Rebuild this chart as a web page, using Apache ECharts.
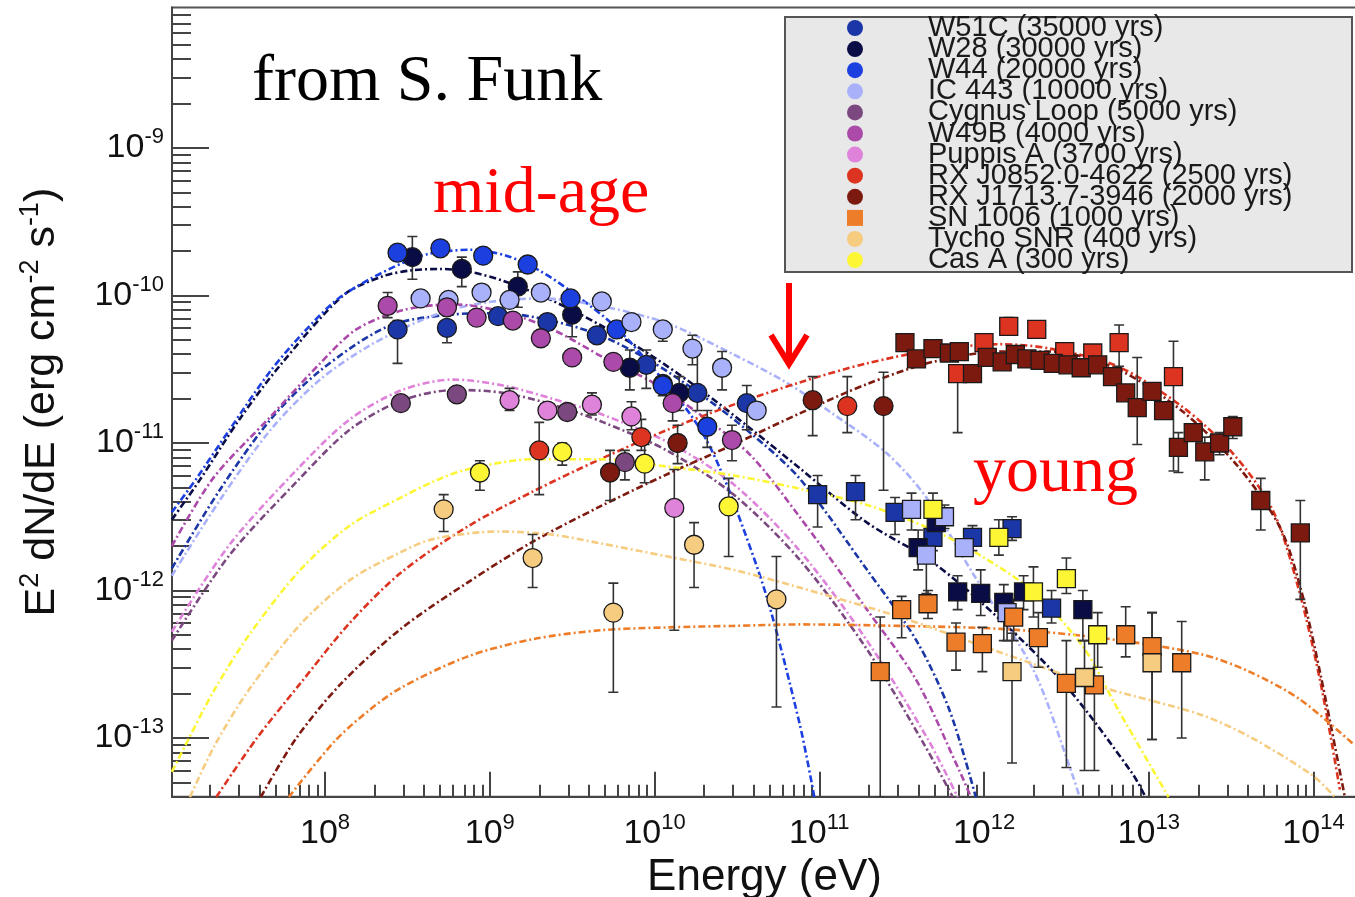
<!DOCTYPE html>
<html><head><meta charset="utf-8">
<script src="https://cdn.jsdelivr.net/npm/echarts@6/dist/echarts.min.js"></script>
<style>html,body{margin:0;padding:0;background:#fff}#c{width:1355px;height:897px}</style>
</head><body><div id="c"></div>
<script>
// All values are log10: [log10 E (eV), log10 E^2 dN/dE (erg cm^-2 s^-1)]
// error arrays: [log10 E, log10 low, log10 high]
const X_RANGE = [7.071, 14.264];
const Y_RANGE = [-13.398, -8.0475];
const X_MAJOR = [8, 9, 10, 11, 12, 13, 14];
const Y_MAJOR = [-13, -12, -11, -10, -9];

const W51C_gev = [[8.44,-10.23],[8.74,-10.22],[9.05,-10.14],[9.35,-10.18],[9.65,-10.27],[9.95,-10.47],[10.05,-10.60],[10.26,-10.66],[10.56,-10.73]];
const W51C_tev = [[10.99,-11.35],[11.22,-11.33],[11.46,-11.47],[11.69,-11.64],[11.93,-11.64],[12.17,-11.58],[12.41,-12.12]];
const W51C_err = [[8.44,-10.46,-10.17],[8.74,-10.32,-10.17],[9.95,-10.63,-10.37],[10.26,-10.78,-10.37],[10.56,-10.91,-10.61],[10.99,-11.57,-11.22],[11.22,-11.52,-11.22],[11.46,-11.62,-11.37],[11.69,-11.73,-11.55],[11.93,-11.73,-11.56],[12.17,-11.66,-11.50],[12.41,-12.22,-12.00]];
const W51C_model = [[7.07,-11.85],[7.36,-11.32],[7.67,-10.84],[7.97,-10.51],[8.38,-10.21],[8.76,-10.13],[9.06,-10.12],[9.37,-10.17],[9.67,-10.27],[9.97,-10.44],[10.28,-10.67],[10.58,-10.93],[10.88,-11.24],[11.29,-11.86],[11.59,-12.34],[11.79,-12.81],[11.95,-13.40]];

const W28_gev = [[8.53,-9.74],[8.83,-9.82],[9.17,-9.94],[9.50,-10.13],[9.85,-10.49],[10.15,-10.66]];
const W28_tev = [[11.60,-11.71],[11.71,-11.54],[11.84,-12.01],[11.98,-12.02],[12.12,-12.08],[12.24,-12.01],[12.60,-12.13]];
const W28_err = [[8.53,-9.89,-9.60],[8.83,-9.94,-9.74],[9.17,-10.08,-9.84],[9.50,-10.28,-10.02],[9.85,-10.64,-10.37],[10.15,-10.78,-10.55],[11.60,-11.86,-11.59],[11.84,-12.13,-11.90],[11.98,-12.17,-11.86],[12.12,-12.34,-11.96],[12.24,-12.13,-11.90],[12.60,-12.34,-12.00]];
const W28_model = [[7.07,-11.52],[7.24,-11.25],[7.48,-10.84],[7.73,-10.47],[8.11,-10.00],[8.35,-9.87],[8.52,-9.83],[8.70,-9.82],[8.88,-9.84],[9.08,-9.90],[9.37,-10.03],[9.67,-10.20],[9.97,-10.40],[10.28,-10.64],[10.58,-10.90],[10.88,-11.17],[11.29,-11.54],[11.69,-11.81],[12.10,-12.20],[12.50,-12.65],[12.90,-13.24],[12.98,-13.40]];

const W44_gev = [[8.44,-9.71],[8.70,-9.68],[8.96,-9.73],[9.23,-9.79],[9.49,-10.02],[9.77,-10.23],[10.05,-10.61],[10.32,-10.89]];
const W44_err = [[9.49,-10.07,-9.97],[10.05,-10.68,-10.55],[10.32,-11.03,-10.78]];
const W44_model = [[7.07,-11.47],[7.22,-11.24],[7.42,-10.91],[7.67,-10.51],[7.87,-10.25],[8.07,-10.03],[8.27,-9.89],[8.47,-9.78],[8.62,-9.72],[8.88,-9.69],[9.10,-9.73],[9.30,-9.83],[9.49,-9.97],[9.77,-10.22],[10.05,-10.57],[10.22,-10.81],[10.32,-10.99],[10.40,-11.18],[10.48,-11.40],[10.68,-12.04],[10.88,-12.90],[10.97,-13.40]];

const IC443_gev = [[8.58,-10.02],[8.75,-10.03],[8.95,-9.98],[9.12,-10.03],[9.31,-9.98],[9.68,-10.04],[9.86,-10.18],[10.05,-10.23],[10.23,-10.36],[10.41,-10.49],[10.62,-10.78]];
const IC443_tev = [[11.56,-11.45],[11.65,-11.76],[11.76,-11.50],[11.88,-11.71],[12.14,-12.15]];
const IC443_err = [[10.05,-10.31,-10.18],[10.23,-10.47,-10.27],[10.41,-10.64,-10.38],[11.56,-11.59,-11.34],[11.65,-12.02,-11.66],[11.76,-11.58,-11.42],[12.14,-12.34,-12.02]];
const IC443_model = [[7.07,-11.90],[7.36,-11.39],[7.67,-10.91],[7.97,-10.57],[8.27,-10.34],[8.58,-10.17],[8.82,-10.08],[9.10,-10.03],[9.31,-10.02],[9.67,-10.07],[10.08,-10.19],[10.48,-10.40],[10.80,-10.59],[11.08,-10.80],[11.41,-11.07],[11.65,-11.37],[11.93,-11.88],[12.30,-12.54],[12.54,-13.26],[12.58,-13.40]];

const CYG_gev = [[8.46,-10.73],[8.80,-10.67],[9.47,-10.79],[9.82,-11.13]];
const CYG_err = [[9.82,-11.25,-11.05]];
const CYG_model = [[7.07,-12.34],[7.42,-11.76],[7.83,-11.26],[8.15,-10.91],[8.47,-10.71],[8.80,-10.64],[9.08,-10.66],[9.38,-10.74],[9.69,-10.86],[10.09,-11.06],[10.48,-11.35],[10.88,-11.79],[11.29,-12.40],[11.64,-13.05],[11.81,-13.40]];

const W49B_gev = [[8.38,-10.07],[8.74,-10.08],[8.92,-10.15],[9.14,-10.17],[9.31,-10.29],[9.50,-10.42],[9.75,-10.45],[10.11,-10.73],[10.47,-10.98]];
const W49B_err = [[8.38,-10.15,-9.98],[10.11,-10.85,-10.62],[10.47,-11.12,-10.88]];
const W49B_model = [[7.07,-11.70],[7.32,-11.24],[7.67,-10.82],[7.97,-10.46],[8.19,-10.23],[8.47,-10.10],[8.78,-10.06],[9.08,-10.11],[9.38,-10.23],[9.69,-10.42],[9.99,-10.59],[10.28,-10.81],[10.58,-11.08],[10.88,-11.50],[11.29,-12.13],[11.59,-12.61],[11.85,-13.22],[11.92,-13.40]];

const PUP_gev = [[9.12,-10.71],[9.35,-10.78],[9.62,-10.74],[9.86,-10.82],[10.12,-11.44]];
const PUP_err = [[9.12,-10.78,-10.63],[9.62,-10.81,-10.66],[9.86,-10.91,-10.72],[10.12,-12.27,-11.18]];
const PUP_model = [[7.07,-12.28],[7.42,-11.69],[7.83,-11.18],[8.15,-10.84],[8.47,-10.64],[8.78,-10.57],[9.08,-10.61],[9.38,-10.70],[9.69,-10.81],[10.09,-11.00],[10.48,-11.28],[10.88,-11.73],[11.29,-12.34],[11.66,-13.01],[11.84,-13.40]];

const RXJ0852_gev = [[9.30,-11.05],[9.92,-10.96],[11.17,-10.75]];
const RXJ0852_tev = [[11.84,-10.53],[12.00,-10.32],[12.15,-10.21],[12.32,-10.23],[12.49,-10.38],[12.66,-10.39],[12.82,-10.32],[13.15,-10.55]];
const RXJ0852_err = [[9.30,-11.35,-10.86],[9.92,-11.05,-10.84],[11.17,-10.93,-10.55],[11.84,-10.93,-10.48],[12.00,-10.38,-10.26],[12.15,-10.25,-10.15],[12.32,-10.28,-10.18],[12.82,-10.48,-10.20],[13.15,-11.19,-10.31]];
const RXJ0852_model = [[7.34,-13.40],[7.58,-13.01],[7.85,-12.63],[8.15,-12.22],[8.46,-11.88],[8.86,-11.57],[9.26,-11.33],[9.67,-11.11],[10.08,-10.91],[10.48,-10.74],[10.88,-10.59],[11.29,-10.46],[11.69,-10.37],[12.10,-10.33],[12.40,-10.36],[12.81,-10.48],[13.21,-10.76],[13.51,-11.07],[13.75,-11.45],[13.90,-11.95],[14.04,-12.61],[14.16,-13.35]];

const RXJ1713_gev = [[9.73,-11.20],[10.14,-11.00],[10.96,-10.71],[11.39,-10.75]];
const RXJ1713_tev = [[11.52,-10.32],[11.59,-10.43],[11.69,-10.36],[11.79,-10.39],[11.85,-10.38],[11.93,-10.53],[12.02,-10.42],[12.11,-10.45],[12.19,-10.40],[12.26,-10.43],[12.34,-10.44],[12.42,-10.46],[12.51,-10.47],[12.59,-10.49],[12.69,-10.47],[12.78,-10.55],[12.86,-10.66],[12.93,-10.76],[13.02,-10.65],[13.09,-10.78],[13.18,-11.03],[13.27,-10.93],[13.34,-11.06],[13.43,-11.00],[13.51,-10.89],[13.68,-11.39],[13.92,-11.61]];
const RXJ1713_err = [[9.73,-11.39,-11.05],[10.14,-11.14,-10.88],[10.96,-10.95,-10.55],[11.39,-11.32,-10.52],[11.52,-10.36,-10.28],[12.93,-11.01,-10.42],[13.18,-11.20,-10.93],[13.34,-11.25,-10.96],[13.43,-11.08,-10.93],[13.51,-10.97,-10.82],[13.68,-11.59,-11.24],[13.92,-12.06,-11.39]];
const RXJ1713_model = [[7.61,-13.40],[7.82,-13.01],[8.09,-12.64],[8.46,-12.26],[8.86,-11.95],[9.26,-11.67],[9.67,-11.43],[10.08,-11.21],[10.48,-11.01],[10.88,-10.80],[11.29,-10.60],[11.69,-10.45],[12.10,-10.38],[12.40,-10.38],[12.81,-10.50],[13.21,-10.79],[13.55,-11.17],[13.80,-11.58],[13.93,-12.02],[14.05,-12.61],[14.19,-13.40]];

const SN1006_tev = [[11.37,-12.55],[11.50,-12.13],[11.66,-12.09],[11.83,-12.35],[11.99,-12.36],[12.18,-12.18],[12.33,-12.32],[12.50,-12.63],[12.67,-12.64],[12.86,-12.30],[13.02,-12.38],[13.20,-12.49]];
const SN1006_err = [[11.37,-13.40,-12.18],[11.50,-12.32,-12.04],[11.66,-12.19,-12.00],[11.83,-12.54,-12.22],[11.99,-12.55,-12.25],[12.18,-12.34,-12.06],[12.33,-12.52,-12.15],[12.50,-13.20,-12.34],[12.67,-13.22,-12.27],[12.86,-12.45,-12.11],[13.02,-13.01,-12.15],[13.20,-13.00,-12.21]];
const SN1006_model = [[7.78,-13.40],[8.06,-13.02],[8.27,-12.81],[8.46,-12.66],[8.86,-12.45],[9.26,-12.33],[9.67,-12.27],[10.08,-12.25],[10.48,-12.24],[10.88,-12.23],[11.49,-12.24],[12.10,-12.26],[12.70,-12.32],[13.31,-12.43],[13.61,-12.55],[13.92,-12.74],[14.25,-13.05]];

const TYCHO_gev = [[8.72,-11.45],[9.26,-11.78],[9.75,-12.15],[10.24,-11.69],[10.74,-12.06]];
const TYCHO_tev = [[12.17,-12.55],[12.61,-12.59],[13.02,-12.49]];
const TYCHO_err = [[8.72,-11.60,-11.35],[9.26,-11.98,-11.62],[9.75,-12.69,-11.95],[10.24,-11.98,-11.54],[10.74,-12.79,-11.77],[12.17,-13.17,-12.29],[12.61,-13.22,-12.34],[13.02,-13.01,-12.15]];
const TYCHO_model = [[7.18,-13.40],[7.33,-13.05],[7.54,-12.67],[7.85,-12.23],[8.15,-11.93],[8.46,-11.74],[8.66,-11.65],[9.06,-11.60],[9.37,-11.62],[9.67,-11.68],[10.08,-11.77],[10.48,-11.86],[10.88,-11.98],[11.49,-12.18],[12.10,-12.42],[12.70,-12.65],[13.31,-12.84],[13.61,-12.99],[13.99,-13.25],[14.13,-13.40]];

const CASA_gev = [[8.94,-11.20],[9.44,-11.06],[9.94,-11.14],[10.45,-11.43]];
const CASA_tev = [[11.69,-11.45],[12.09,-11.64],[12.30,-12.01],[12.50,-11.92],[12.69,-12.30]];
const CASA_err = [[8.94,-11.32,-11.12],[9.44,-11.15,-11.00],[9.94,-11.27,-11.01],[10.45,-11.77,-11.24],[11.69,-11.59,-11.34],[12.09,-11.76,-11.52],[12.30,-12.18,-11.84],[12.50,-12.02,-11.78],[12.69,-12.52,-12.15]];
const CASA_model = [[7.07,-13.23],[7.17,-13.01],[7.33,-12.67],[7.54,-12.30],[7.85,-11.86],[8.15,-11.56],[8.46,-11.37],[8.66,-11.26],[8.86,-11.18],[9.26,-11.11],[9.67,-11.11],[10.08,-11.16],[10.48,-11.22],[10.88,-11.31],[11.29,-11.42],[11.69,-11.59],[11.99,-11.77],[12.30,-12.01],[12.60,-12.38],[12.81,-12.80],[13.12,-13.40]];

const SOURCES = [
  {name:'W51C (35000 yrs)', color:'#1b36a6', gev:W51C_gev, tev:W51C_tev, err:W51C_err, model:W51C_model, icon:'circle'},
  {name:'W28 (30000 yrs)', color:'#0a0c46', gev:W28_gev, tev:W28_tev, err:W28_err, model:W28_model, icon:'circle'},
  {name:'W44 (20000 yrs)', color:'#1c3fe0', gev:W44_gev, tev:[], err:W44_err, model:W44_model, icon:'circle'},
  {name:'IC 443 (10000 yrs)', color:'#a9b1fb', gev:IC443_gev, tev:IC443_tev, err:IC443_err, model:IC443_model, icon:'circle'},
  {name:'Cygnus Loop (5000 yrs)', color:'#7b497f', gev:CYG_gev, tev:[], err:CYG_err, model:CYG_model, icon:'circle'},
  {name:'W49B (4000 yrs)', color:'#ac4aaa', gev:W49B_gev, tev:[], err:W49B_err, model:W49B_model, icon:'circle'},
  {name:'Puppis A (3700 yrs)', color:'#de82da', gev:PUP_gev, tev:[], err:PUP_err, model:PUP_model, icon:'circle'},
  {name:'RX J0852.0-4622 (2500 yrs)', color:'#dc3420', gev:RXJ0852_gev, tev:RXJ0852_tev, err:RXJ0852_err, model:RXJ0852_model, icon:'circle'},
  {name:'RX J1713.7-3946 (2000 yrs)', color:'#7d1a10', gev:RXJ1713_gev, tev:RXJ1713_tev, err:RXJ1713_err, model:RXJ1713_model, icon:'circle'},
  {name:'SN 1006 (1000 yrs)', color:'#ee7d2a', gev:[], tev:SN1006_tev, err:SN1006_err, model:SN1006_model, icon:'rect'},
  {name:'Tycho SNR (400 yrs)', color:'#f6cc80', gev:TYCHO_gev, tev:TYCHO_tev, err:TYCHO_err, model:TYCHO_model, icon:'circle'},
  {name:'Cas A (300 yrs)', color:'#fcf634', gev:CASA_gev, tev:CASA_tev, err:CASA_err, model:CASA_model, icon:'circle'}
];

const SANS = '"Liberation Sans", Arial, Helvetica, sans-serif';
const SERIF = '"Liberation Serif", "Times New Roman", serif';

function minorTicks(range) {
  const out = [];
  for (let d = Math.floor(range[0]); d <= Math.ceil(range[1]); d++) {
    for (let m = 2; m <= 9; m++) {
      const v = d + Math.log10(m);
      if (v > range[0] && v < range[1]) out.push(v);
    }
  }
  return out;
}
const X_MINOR = minorTicks(X_RANGE);
const Y_MINOR = minorTicks(Y_RANGE);

const TICK_RICH = {
  b: {fontSize: 34, fontFamily: SANS, color: '#111', lineHeight: 44},
  s: {fontSize: 22, fontFamily: SANS, color: '#111', lineHeight: 18, verticalAlign: 'top'}
};
const NAME_RICH = {
  b: {fontSize: 43, fontFamily: SANS, color: '#111', lineHeight: 50},
  s: {fontSize: 27, fontFamily: SANS, color: '#111', lineHeight: 22, verticalAlign: 'top'}
};
const tickFmt = v => '{b|10}{s|' + Math.round(v) + '}';
const AX_COLOR = '#444';

function errRender(params, api) {
  const x = api.value(0), lo = api.value(1), hi = api.value(2);
  const p1 = api.coord([x, hi]), p2 = api.coord([x, lo]);
  const c = 5;
  const st = {stroke: '#333', lineWidth: 1.6};
  return {type: 'group', children: [
    {type: 'line', shape: {x1: p1[0], y1: p1[1], x2: p2[0], y2: p2[1]}, style: st},
    {type: 'line', shape: {x1: p1[0] - c, y1: p1[1], x2: p1[0] + c, y2: p1[1]}, style: st},
    {type: 'line', shape: {x1: p2[0] - c, y1: p2[1], x2: p2[0] + c, y2: p2[1]}, style: st}
  ]};
}

const series = [];
SOURCES.forEach(s => {
  if (s.gev.length) series.push({
    name: s.name, type: 'scatter', data: s.gev, symbol: 'circle', symbolSize: 19, z: 5,
    itemStyle: {color: s.color, borderColor: '#1a1a1a', borderWidth: 1.3, opacity: 1}
  });
  if (s.tev.length) series.push({
    name: s.name, type: 'scatter', data: s.tev, symbol: 'rect', symbolSize: 18, z: 5,
    itemStyle: {color: s.color, borderColor: '#1a1a1a', borderWidth: 1.3, opacity: 1}
  });
  series.push({
    name: s.name, type: 'line', data: s.model, showSymbol: false, smooth: 0.3, z: 2, silent: true,
    lineStyle: {color: s.color, width: 2.6, type: [7, 3, 2, 3]}
  });
  series.push({
    name: s.name, type: 'custom', data: s.err, renderItem: errRender, z: 3, silent: true, clip: true,
    encode: {x: 0, y: [1, 2]}
  });
});

const chart = echarts.init(document.getElementById('c'), null, {renderer: 'canvas'});
chart.setOption({
  animation: false,
  backgroundColor: '#fff',
  grid: {left: 172, top: 7.5, width: 1185, height: 789.2, show: true, borderColor: '#555', borderWidth: 2,
         backgroundColor: '#fff', containLabel: false, outerBoundsMode: 'none'},
  xAxis: [{
    type: 'value', min: X_RANGE[0], max: X_RANGE[1], position: 'bottom',
    axisLine: {show: true, onZero: false, lineStyle: {color: AX_COLOR, width: 2}},
    axisTick: {show: true, inside: true, length: 25, customValues: X_MAJOR, lineStyle: {color: AX_COLOR, width: 2}},
    axisLabel: {show: true, customValues: X_MAJOR, formatter: tickFmt, rich: TICK_RICH, margin: 15},
    splitLine: {show: false},
    name: 'Energy (eV)', nameLocation: 'middle', nameGap: 57,
    nameTextStyle: {fontSize: 44, fontFamily: SANS, color: '#111'}
  }, {
    type: 'value', min: X_RANGE[0], max: X_RANGE[1], position: 'bottom',
    axisLine: {show: false},
    axisTick: {show: true, inside: true, length: 12, customValues: X_MINOR, lineStyle: {color: AX_COLOR, width: 2}},
    axisLabel: {show: false}, splitLine: {show: false}
  }],
  yAxis: [{
    type: 'value', min: Y_RANGE[0], max: Y_RANGE[1], position: 'left',
    axisLine: {show: true, onZero: false, lineStyle: {color: AX_COLOR, width: 2}},
    axisTick: {show: true, inside: true, length: 37, customValues: Y_MAJOR, lineStyle: {color: AX_COLOR, width: 2}},
    axisLabel: {show: true, customValues: Y_MAJOR, formatter: tickFmt, rich: TICK_RICH, margin: 8},
    splitLine: {show: false},
    name: '{b|E}{s|2}{b| dN/dE (erg cm}{s|-2}{b| s}{s|-1}{b|)}', nameLocation: 'middle', nameGap: 105, nameRotate: 90,
    nameTextStyle: {rich: NAME_RICH}
  }, {
    type: 'value', min: Y_RANGE[0], max: Y_RANGE[1], position: 'left',
    axisLine: {show: false},
    axisTick: {show: true, inside: true, length: 19, customValues: Y_MINOR, lineStyle: {color: AX_COLOR, width: 2}},
    axisLabel: {show: false}, splitLine: {show: false}
  }],
  legend: {
    orient: 'vertical', left: 847, top: 13.5, padding: 0, itemGap: -7.9, itemWidth: 16, itemHeight: 16, z: 10,
    selectedMode: false,
    data: SOURCES.map(s => ({name: s.name, icon: s.icon, itemStyle: {borderWidth: 0}})),
    textStyle: {fontSize: 29, fontFamily: SANS, color: '#1a1a1a', lineHeight: 21.1, padding: [0, 0, 0, 60]}
  },
  graphic: [
    {type: 'rect', z: 8, shape: {x: 785, y: 17, width: 567, height: 255},
     style: {fill: '#e8e8e8', stroke: '#555', lineWidth: 2}},
    {type: 'text', z: 20, x: 252, y: 82.7,
     style: {text: 'from S. Funk', fontSize: 66, fontFamily: SERIF, fill: '#000', verticalAlign: 'middle', align: 'left'}},
    {type: 'text', z: 20, x: 433, y: 194.7,
     style: {text: 'mid-age', fontSize: 66, fontFamily: SERIF, fill: '#ff0000', verticalAlign: 'middle', align: 'left'}},
    {type: 'text', z: 20, x: 973, y: 473.7,
     style: {text: 'young', fontSize: 66, fontFamily: SERIF, fill: '#ff0000', verticalAlign: 'middle', align: 'left'}},
    {type: 'polyline', z: 20, shape: {points: [[789, 283], [789, 360]]},
     style: {stroke: '#ff0000', lineWidth: 6, fill: null}},
    {type: 'polyline', z: 20, shape: {points: [[771, 335], [789, 364], [807, 335]]},
     style: {stroke: '#ff0000', lineWidth: 6, fill: null, lineJoin: 'miter'}}
  ],
  series: series
});
</script></body></html>
